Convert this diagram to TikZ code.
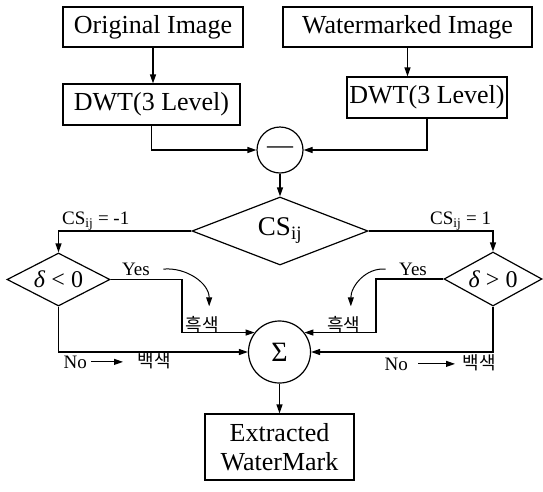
\documentclass[tikz,border=0pt]{standalone}
\usepackage{fontspec}
\setmainfont{Liberation Serif}
\newfontfamily\kor{Noto Sans CJK KR}
\usepackage{tikz}
\usetikzlibrary{arrows.meta, positioning, shapes.geometric}

\tikzset{
  blk/.style={draw, inner sep=1pt, font=\fontsize{26}{29}\selectfont},
  dec/.style={draw, diamond, aspect=2, inner sep=0pt},
  sum/.style={draw, circle, inner sep=0pt},
  lbl/.style={inner sep=1pt, font=\fontsize{19}{22}\selectfont},
  kor/.style={inner sep=1pt, font=\kor\fontsize{18}{20}\selectfont},
  thin/.style={line width=1pt}
}

\begin{document}
\begin{tikzpicture}[x=1pt, y=-1pt, line width=1.2pt, >={Triangle[length=9pt,width=6pt]}]
    \useasboundingbox (0,0) rectangle (543,491);
    \node[blk, minimum width=180pt, minimum height=40pt] (orig) at (153,27) {Original Image};
    \node[blk, minimum width=249pt, minimum height=40pt] (wm) at (407.5,27) {Watermarked Image};
    \node[blk, minimum width=177pt, minimum height=41pt] (dwtL) at (151.5,104.5) {DWT(3 Level)};
    \node[blk, minimum width=160pt, minimum height=41pt] (dwtR) at (427,97.5) {DWT(3 Level)};
    \node[sum, minimum size=46pt, font=\fontsize{26}{29}\selectfont] (minus) at (280,150) {—};
    \node[dec, aspect=2.6, minimum width=176pt, minimum height=68pt, font=\fontsize{27}{30}\selectfont] (cs) at (280,231) {CS\textsubscript{ij}};
    \node[dec, minimum width=103pt, minimum height=53pt, font=\fontsize{24}{26}\selectfont] (dL) at (58.5,279.5) {\textit{δ} < 0};
    \node[dec, minimum width=98pt, minimum height=54pt, font=\fontsize{24}{26}\selectfont] (dR) at (493,279) {\textit{δ} > 0};
    \node[sum, minimum size=62pt, font=\fontsize{28}{30}\selectfont] (sigma) at (279.5,352) {Σ};
    \node[blk, minimum width=149pt, minimum height=66pt, align=center] (ext) at (279.5,447) {Extracted\\WaterMark};

    \node[lbl, anchor=south] (yesL) at (136,277) {Yes};
    \node[lbl, anchor=south] (yesR) at (413,277) {Yes};
    \node[kor, anchor=base west] (blackL) at (184,331) {흑색};
    \node[kor, anchor=base east] (blackR) at (362,331) {흑색};
    \node[lbl, anchor=base west] (noL) at (62,368) {No};
    \node[kor, anchor=base west] (whiteL) at (136,367) {백색};
    \node[lbl, anchor=base west] (noR) at (383,370) {No};
    \node[kor, anchor=base west] (whiteR) at (461,369) {백색};
    \coordinate (tapL) at (182,300);
    \coordinate (tapR) at (376,300);

    \draw[->] (orig.south) -- (orig.south |- dwtL.north);
    \draw[->] (wm.south) -- (wm.south |- dwtR.north);
    \draw[->] (dwtL.south) |- (minus.west);
    \draw[->] (dwtR.south) |- (minus.east);
    \draw[->] (minus) -- (cs);
    \draw[->] (cs.west) -| node[lbl, pos=0.36, above=-1pt] {CS\textsubscript{ij} = -1} (dL.north);
    \draw[->] (cs.east) -| node[lbl, pos=0.37, above=-1pt] {CS\textsubscript{ij} = 1} (dR.north);
    \draw[->] (dL.east) -| (tapL) |- (sigma.142);
    \draw[->] (dR.west) -| (tapR) |- (sigma.38);
    \draw[->] (dL.south) |- (sigma.west);
    \draw[->] (dR.south) |- (sigma.east);
    \draw[->] (sigma) -- (ext);

    \draw[->, thin] ([xshift=12pt]yesL.east) to[out=5, in=90] ([xshift=7pt, yshift=8pt]blackL.north);
    \draw[->, thin] ([xshift=-12pt]yesR.west) to[out=175, in=90] ([xshift=7pt, yshift=8pt]blackR.north);
    \draw[->, thin, shorten <=3pt, shorten >=13pt] (noL.east) -- (noL.east -| whiteL.west);
    \draw[->, thin, shorten <=9pt, shorten >=6pt] (noR.east) -- (noR.east -| whiteR.west);
  \end{tikzpicture}
\end{document}
